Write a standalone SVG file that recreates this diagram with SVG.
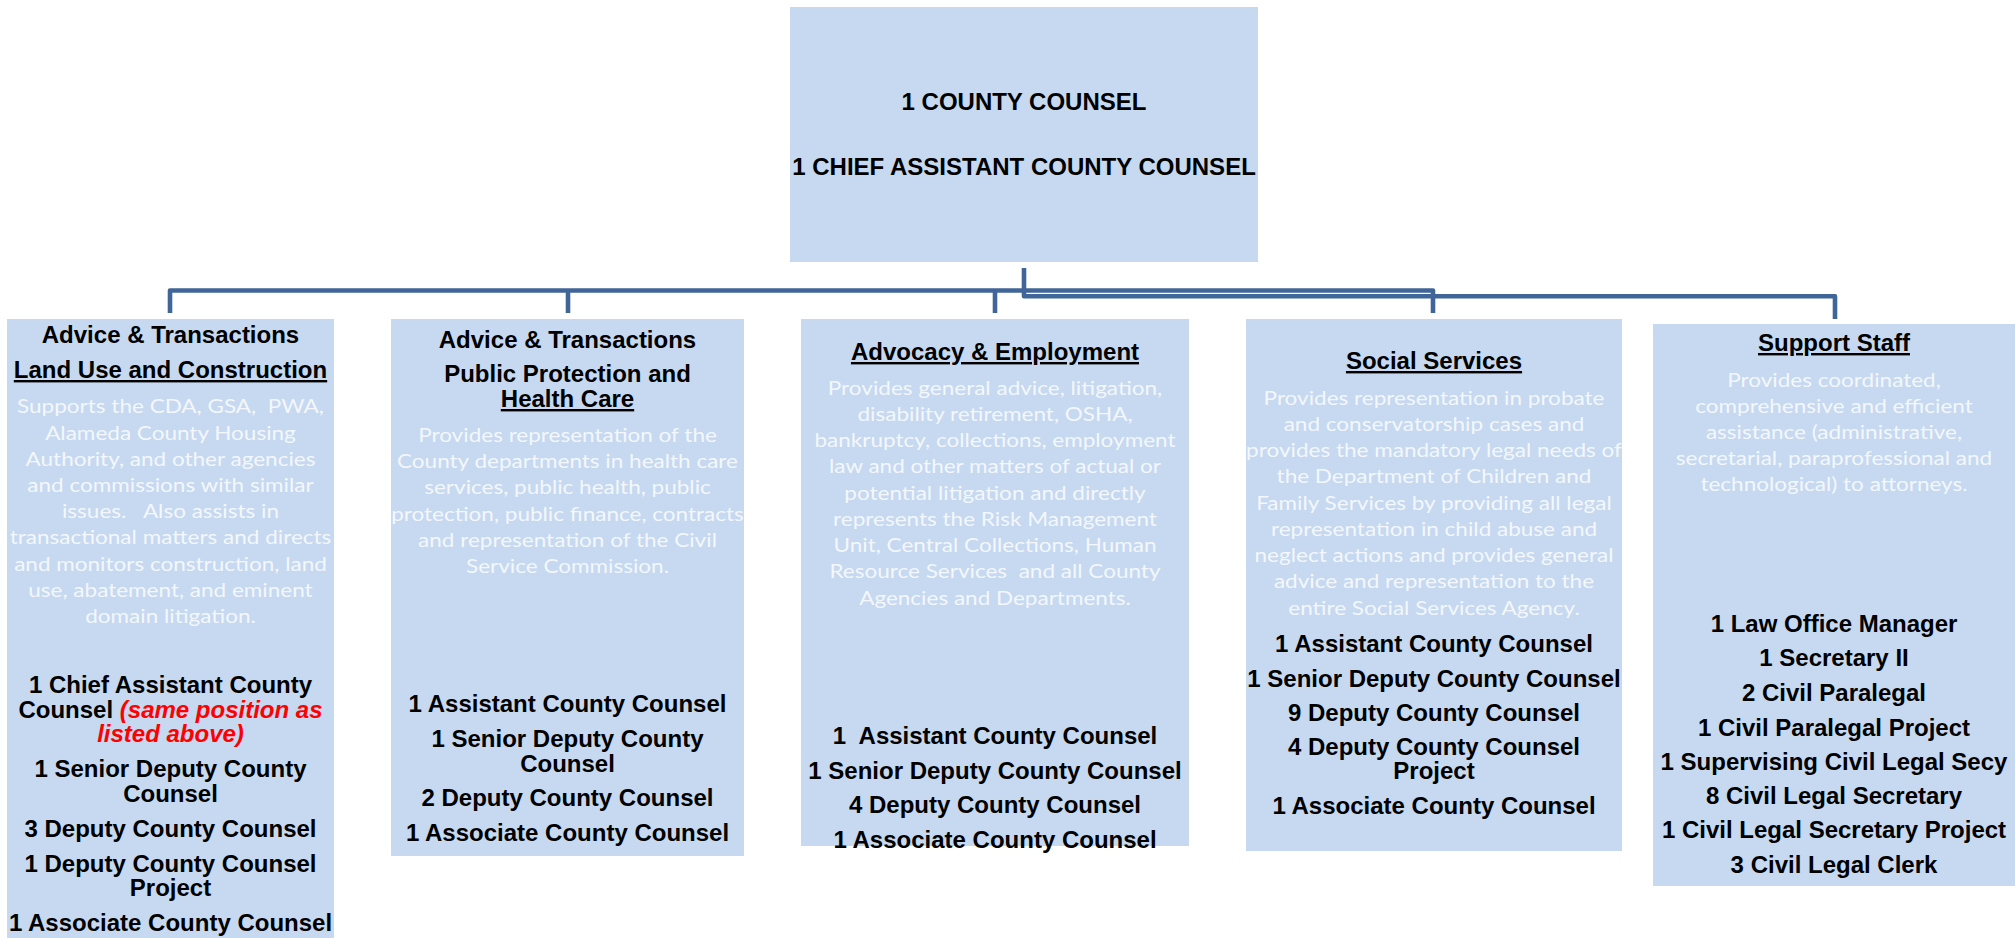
<svg xmlns="http://www.w3.org/2000/svg" width="2015" height="938" viewBox="0 0 2015 938" xml:space="preserve">
<style>
.box{fill:#C6D9F0;}
.b{font-family:"Liberation Sans",Arial,sans-serif;font-weight:bold;font-size:24px;fill:#000;text-anchor:middle;white-space:pre;}
.u{text-decoration:underline;}
.d{font-family:Lato,"Open Sans",sans-serif;font-size:19px;fill:#F3F7FC;text-anchor:middle;white-space:pre;}
.red{fill:#FF0000;font-style:italic;}
.conn{fill:none;stroke:#406699;stroke-width:4.6;stroke-linejoin:round;stroke-linecap:butt;}
</style>
<g id="connectors">
<path class="conn" d="M1024,268 V296.3 H1835 V319"/>
<path class="conn" d="M170,313 V290.5 H1433 V313"/>
<path class="conn" d="M568,290.5 V313"/>
<path class="conn" d="M995,290.5 V313"/>
</g>
<g id="county-counsel">
<rect class="box" x="790" y="7" width="468" height="255"/>
<text class="b" x="1024" y="110">1 COUNTY COUNSEL</text>
<text class="b" x="1024" y="175">1 CHIEF ASSISTANT COUNTY COUNSEL</text>
</g>
<g id="land-use">
<rect class="box" x="7" y="319" width="327" height="619"/>
<text class="b" x="170.5" y="343">Advice &amp; Transactions</text>
<text class="b u" x="170.5" y="378">Land Use and Construction</text>
<g transform="translate(170.5 0) scale(1.185 1)">
<text class="d" x="0" y="413">Supports the CDA, GSA,  PWA,</text>
<text class="d" x="0" y="440">Alameda County Housing</text>
<text class="d" x="0" y="466">Authority, and other agencies</text>
<text class="d" x="0" y="492">and commissions with similar</text>
<text class="d" x="0" y="518">issues.   Also assists in</text>
<text class="d" x="0" y="544">transactional matters and directs</text>
<text class="d" x="0" y="571">and monitors construction, land</text>
<text class="d" x="0" y="597">use, abatement, and eminent</text>
<text class="d" x="0" y="623">domain litigation.</text>
</g>
<text class="b" x="170.5" y="693">1 Chief Assistant County</text>
<text class="b" x="170.5" y="718">Counsel <tspan class="red">(same position as</tspan></text>
<text class="b red" x="170.5" y="742">listed above)</text>
<text class="b" x="170.5" y="777">1 Senior Deputy County</text>
<text class="b" x="170.5" y="802">Counsel</text>
<text class="b" x="170.5" y="837">3 Deputy County Counsel</text>
<text class="b" x="170.5" y="872">1 Deputy County Counsel</text>
<text class="b" x="170.5" y="896">Project</text>
<text class="b" x="170.5" y="931">1 Associate County Counsel</text>
</g>
<g id="public-protection">
<rect class="box" x="391" y="319" width="353" height="537"/>
<text class="b" x="567.5" y="348">Advice &amp; Transactions</text>
<text class="b" x="567.5" y="382">Public Protection and</text>
<text class="b u" x="567.5" y="407">Health Care</text>
<g transform="translate(567.5 0) scale(1.185 1)">
<text class="d" x="0" y="442">Provides representation of the</text>
<text class="d" x="0" y="468">County departments in health care</text>
<text class="d" x="0" y="494">services, public health, public</text>
<text class="d" x="0" y="521">protection, public finance, contracts</text>
<text class="d" x="0" y="547">and representation of the Civil</text>
<text class="d" x="0" y="573">Service Commission.</text>
</g>
<text class="b" x="567.5" y="712">1 Assistant County Counsel</text>
<text class="b" x="567.5" y="747">1 Senior Deputy County</text>
<text class="b" x="567.5" y="772">Counsel</text>
<text class="b" x="567.5" y="806">2 Deputy County Counsel</text>
<text class="b" x="567.5" y="841">1 Associate County Counsel</text>
</g>
<g id="advocacy">
<rect class="box" x="801" y="319" width="388" height="527"/>
<text class="b u" x="995" y="360">Advocacy &amp; Employment</text>
<g transform="translate(995 0) scale(1.185 1)">
<text class="d" x="0" y="395">Provides general advice, litigation,</text>
<text class="d" x="0" y="421">disability retirement, OSHA,</text>
<text class="d" x="0" y="447">bankruptcy, collections, employment</text>
<text class="d" x="0" y="473">law and other matters of actual or</text>
<text class="d" x="0" y="500">potential litigation and directly</text>
<text class="d" x="0" y="526">represents the Risk Management</text>
<text class="d" x="0" y="552">Unit, Central Collections, Human</text>
<text class="d" x="0" y="578">Resource Services  and all County</text>
<text class="d" x="0" y="605">Agencies and Departments.</text>
</g>
<text class="b" x="995" y="744">1  Assistant County Counsel</text>
<text class="b" x="995" y="779">1 Senior Deputy County Counsel</text>
<text class="b" x="995" y="813">4 Deputy County Counsel</text>
<text class="b" x="995" y="848">1 Associate County Counsel</text>
</g>
<g id="social-services">
<rect class="box" x="1246" y="319" width="376" height="532"/>
<text class="b u" x="1434" y="369">Social Services</text>
<g transform="translate(1434 0) scale(1.185 1)">
<text class="d" x="0" y="405">Provides representation in probate</text>
<text class="d" x="0" y="431">and conservatorship cases and</text>
<text class="d" x="0" y="457">provides the mandatory legal needs of</text>
<text class="d" x="0" y="483">the Department of Children and</text>
<text class="d" x="0" y="510">Family Services by providing all legal</text>
<text class="d" x="0" y="536">representation in child abuse and</text>
<text class="d" x="0" y="562">neglect actions and provides general</text>
<text class="d" x="0" y="588">advice and representation to the</text>
<text class="d" x="0" y="615">entire Social Services Agency.</text>
</g>
<text class="b" x="1434" y="652">1 Assistant County Counsel</text>
<text class="b" x="1434" y="687">1 Senior Deputy County Counsel</text>
<text class="b" x="1434" y="721">9 Deputy County Counsel</text>
<text class="b" x="1434" y="755">4 Deputy County Counsel</text>
<text class="b" x="1434" y="779">Project</text>
<text class="b" x="1434" y="814">1 Associate County Counsel</text>
</g>
<g id="support-staff">
<rect class="box" x="1653" y="324" width="362" height="562"/>
<text class="b u" x="1834" y="351">Support Staff</text>
<g transform="translate(1834 0) scale(1.185 1)">
<text class="d" x="0" y="387">Provides coordinated,</text>
<text class="d" x="0" y="413">comprehensive and efficient</text>
<text class="d" x="0" y="439">assistance (administrative,</text>
<text class="d" x="0" y="465">secretarial, paraprofessional and</text>
<text class="d" x="0" y="491">technological) to attorneys.</text>
</g>
<text class="b" x="1834" y="632">1 Law Office Manager</text>
<text class="b" x="1834" y="666">1 Secretary II</text>
<text class="b" x="1834" y="701">2 Civil Paralegal</text>
<text class="b" x="1834" y="736">1 Civil Paralegal Project</text>
<text class="b" x="1834" y="770">1 Supervising Civil Legal Secy</text>
<text class="b" x="1834" y="804">8 Civil Legal Secretary</text>
<text class="b" x="1834" y="838">1 Civil Legal Secretary Project</text>
<text class="b" x="1834" y="873">3 Civil Legal Clerk</text>
</g>
</svg>
